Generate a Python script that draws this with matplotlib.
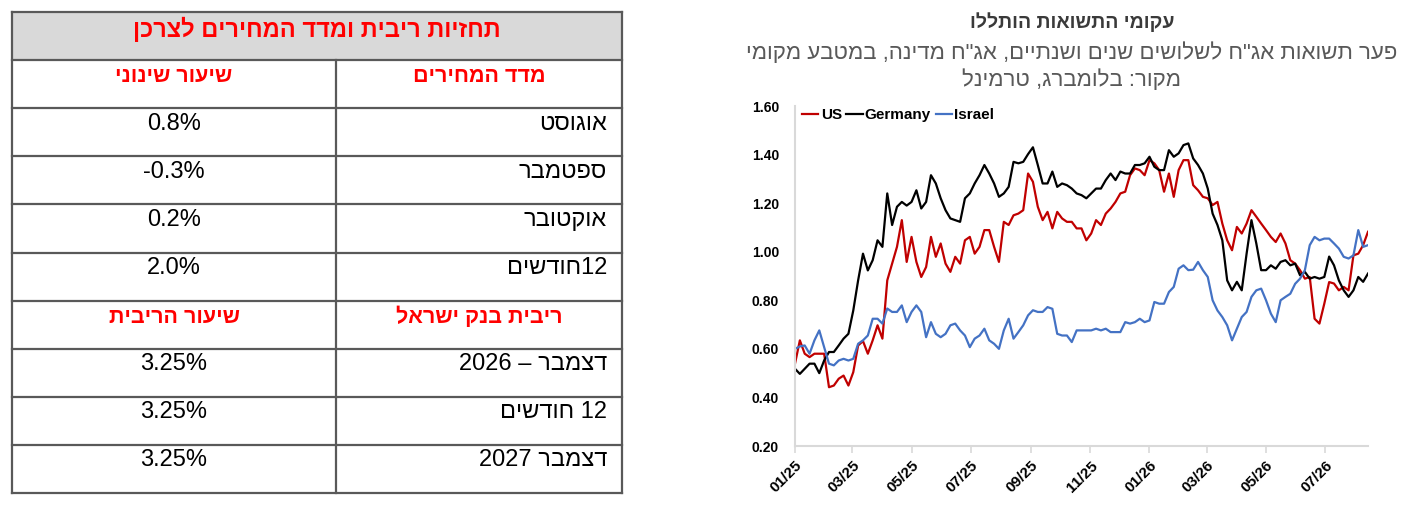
import matplotlib
matplotlib.use("Agg")
import matplotlib.pyplot as plt
import matplotlib.dates as mdates
import pandas as pd
from matplotlib.patches import Rectangle

# ---------------- data ----------------
start_date = "2025-01-01"
step = "5D"

us = [0.539, 0.635, 0.58, 0.566, 0.58, 0.58, 0.58, 0.442, 0.449, 0.477,
      0.49, 0.449, 0.504, 0.614, 0.632, 0.58, 0.635, 0.697, 0.642, 0.882,
      0.951, 1.02, 1.13, 0.958, 1.061, 0.958, 0.896, 0.937, 1.061, 0.979,
      1.034, 0.951, 0.917, 0.979, 0.951, 1.047, 1.061, 0.992, 1.02, 1.089,
      1.089, 1.02, 0.958, 1.123, 1.11, 1.15, 1.157, 1.171, 1.322, 1.288,
      1.185, 1.13, 1.164, 1.096, 1.164, 1.137, 1.123, 1.123, 1.096, 1.096,
      1.047, 1.075, 1.13, 1.11, 1.157, 1.178, 1.205, 1.24, 1.247, 1.315,
      1.343, 1.336, 1.315, 1.377, 1.364, 1.336, 1.247, 1.322, 1.226, 1.336,
      1.377, 1.377, 1.274, 1.253, 1.226, 1.22, 1.192, 1.205, 1.116, 1.047,
      1.006, 1.102, 1.075, 1.116, 1.171, 1.144, 1.116, 1.089, 1.061, 1.04,
      1.075, 1.034, 0.965, 0.951, 0.924, 0.889, 0.896, 0.724, 0.704, 0.786,
      0.875, 0.869, 0.841, 0.855, 0.841, 0.985, 0.992, 1.027, 1.082]

germany = [0.518, 0.497, 0.518, 0.539, 0.539, 0.50, 0.552, 0.587, 0.587, 0.614,
           0.642, 0.662, 0.758, 0.882, 0.992, 0.923, 0.965, 1.047, 1.02, 1.24,
           1.11, 1.185, 1.205, 1.19, 1.205, 1.253, 1.178, 1.205, 1.315, 1.281,
           1.22, 1.171, 1.137, 1.13, 1.123, 1.22, 1.24, 1.281, 1.315, 1.357,
           1.322, 1.281, 1.226, 1.24, 1.267, 1.37, 1.364, 1.37, 1.402, 1.43,
           1.357, 1.281, 1.281, 1.33, 1.267, 1.281, 1.274, 1.26, 1.24, 1.233,
           1.22, 1.24, 1.26, 1.26, 1.295, 1.322, 1.295, 1.33, 1.322, 1.322,
           1.357, 1.357, 1.364, 1.391, 1.35, 1.336, 1.336, 1.418, 1.391, 1.405,
           1.439, 1.446, 1.384, 1.357, 1.322, 1.26, 1.157, 1.11, 1.047, 0.882,
           0.841, 0.876, 0.841, 0.992, 1.13, 1.034, 0.924, 0.924, 0.944, 0.93,
           0.958, 0.965, 0.944, 0.951, 0.903, 0.917, 0.889, 0.896, 0.889, 0.896,
           0.98, 0.944, 0.882, 0.841, 0.814, 0.841, 0.896, 0.876, 0.91]

israel = [0.60, 0.61, 0.614, 0.58, 0.635, 0.676, 0.607, 0.539, 0.532, 0.552,
          0.559, 0.552, 0.559, 0.621, 0.635, 0.655, 0.724, 0.724, 0.704, 0.766,
          0.752, 0.752, 0.779, 0.71, 0.752, 0.779, 0.752, 0.648, 0.71, 0.662,
          0.648, 0.662, 0.697, 0.704, 0.676, 0.655, 0.607, 0.642, 0.655, 0.683,
          0.635, 0.621, 0.60, 0.676, 0.724, 0.642, 0.669, 0.697, 0.738, 0.759,
          0.752, 0.752, 0.772, 0.765, 0.662, 0.655, 0.655, 0.628, 0.676, 0.676,
          0.676, 0.676, 0.683, 0.676, 0.683, 0.669, 0.669, 0.669, 0.71, 0.704,
          0.71, 0.724, 0.71, 0.717, 0.793, 0.786, 0.786, 0.834, 0.855, 0.93,
          0.944, 0.924, 0.926, 0.958, 0.924, 0.896, 0.80, 0.758, 0.731, 0.697,
          0.635, 0.683, 0.731, 0.752, 0.814, 0.841, 0.848, 0.80, 0.745, 0.71,
          0.80, 0.814, 0.827, 0.868, 0.889, 0.924, 1.027, 1.061, 1.047, 1.054,
          1.054, 1.034, 1.013, 0.979, 0.972, 0.985, 1.089, 1.02, 1.027]

series_names = ["US", "Germany", "Israel"]
series_colors = ["#c00000", "#000000", "#4472c4"]

y_ticks = [0.20, 0.40, 0.60, 0.80, 1.00, 1.20, 1.40, 1.60]

# Hebrew texts stored in visual (left-to-right display) order
chart_title = "וללתוה תואושתה ימוקע"
chart_sub1 = 'ימוקמ עבטמב ,הנידמ ח"גא ,םייתנשו םינש םישולשל ח"גא תואושת רעפ'
chart_sub2 = "לנימרט ,גרבמולב :רוקמ"

table_title = "ןכרצל םיריחמה דדמו תיביר תויזחת"
table_header1 = ["םיריחמה דדמ", "ינוניש רועיש"]
cpi_labels = ["טסוגוא", "רבמטפס", "רבוטקוא", "םישדוח12"]
cpi_values = ["0.8%", "-0.3%", "0.2%", "2.0%"]
table_header2 = ["לארשי קנב תיביר", "תיבירה רועיש"]
rate_labels = ["2026 – רבמצד", "םישדוח 12", "2027 רבמצד"]
rate_values = ["3.25%", "3.25%", "3.25%"]

# ---------------- figure ----------------
W, H = 1410, 512
fig = plt.figure(figsize=(W / 100, H / 100), dpi=100)
fams = ["Liberation Sans", "DejaVu Sans"]
plt.rcParams["font.family"] = fams

# ---- table (drawn in pixel space) ----
tab = fig.add_axes([0, 0, 1, 1])
tab.set_xlim(0, W)
tab.set_ylim(H, 0)
tab.axis("off")

x0, x1, xm = 12, 622, 336
row_h = 48.1
top = 12
rows = [top + row_h * i for i in range(11)]
line_c = "#595959"
red = "#ff0000"

tab.add_patch(Rectangle((x0, rows[0]), x1 - x0, row_h, facecolor="#d9d9d9",
                        edgecolor="none", zorder=0))
for yy in rows:
    tab.plot([x0, x1], [yy, yy], color=line_c, lw=1.6, solid_capstyle="projecting")
tab.plot([x0, x0], [rows[0], rows[-1]], color=line_c, lw=1.6)
tab.plot([x1, x1], [rows[0], rows[-1]], color=line_c, lw=1.6)
tab.plot([xm, xm], [rows[1], rows[-1]], color=line_c, lw=1.6)

cl = (x0 + xm) / 2
cr = (xm + x1) / 2
rx = 607
base = 21.5

tab.text((x0 + x1) / 2, rows[0] + 25, table_title, color=red, fontsize=17,
         fontweight="bold", ha="center", va="baseline")


def header(r, pair):
    tab.text(cr, rows[r] + 22, pair[0], color=red, fontsize=15.5,
             fontweight="bold", ha="center", va="baseline")
    tab.text(cl, rows[r] + 22, pair[1], color=red, fontsize=15.5,
             fontweight="bold", ha="center", va="baseline")


def body(r, lab, val):
    tab.text(rx, rows[r] + base, lab, color="black", fontsize=17,
             ha="right", va="baseline")
    tab.text(cl, rows[r] + base, val, color="black", fontsize=17,
             ha="center", va="baseline")


header(1, table_header1)
for i, (l, v) in enumerate(zip(cpi_labels, cpi_values)):
    body(2 + i, l, v)
header(6, table_header2)
for i, (l, v) in enumerate(zip(rate_labels, rate_values)):
    body(7 + i, l, v)

# ---- chart titles ----
cx = 1072 / W
fig.text(cx, 1 - 22 / H, chart_title, ha="center", va="center", fontsize=14,
         fontweight="bold", color="#3a3a3a")
fig.text(cx, 1 - 53 / H, chart_sub1, ha="center", va="center", fontsize=16,
         color="#595959")
fig.text(cx, 1 - 80 / H, chart_sub2, ha="center", va="center", fontsize=16,
         color="#595959")

# ---- line chart ----
dates = pd.date_range(start_date, periods=len(us), freq=step)
ax = fig.add_axes([795 / W, 1 - 446 / H, (1368 - 795) / W, (446 - 106) / H])
for name, vals, col in zip(series_names, [us, germany, israel], series_colors):
    ax.plot(dates, vals, color=col, lw=1.6, label=name)

ax.set_ylim(0.2, 1.6)
ax.set_yticks(y_ticks)
ax.set_yticklabels([f"{v:.2f}" for v in y_ticks], fontsize=10, fontweight="bold")
ax.set_xlim(dates[0], dates[-1])
ax.xaxis.set_major_locator(mdates.MonthLocator(bymonth=[1, 3, 5, 7, 9, 11]))
ax.xaxis.set_major_formatter(mdates.DateFormatter("%m/%y"))
for lab in ax.get_xticklabels():
    lab.set_rotation(45)
    lab.set_ha("right")
    lab.set_rotation_mode("anchor")
    lab.set_fontweight("bold")
    lab.set_fontsize(11)
ax.tick_params(axis="x", length=5, color="#d9d9d9", width=1.2, pad=4)
ax.tick_params(axis="y", length=0, pad=11.5)
for s in ["top", "right"]:
    ax.spines[s].set_visible(False)
for s in ["left", "bottom"]:
    ax.spines[s].set_color("#d9d9d9")
    ax.spines[s].set_linewidth(1.5)

leg = ax.legend(loc="upper left", bbox_to_anchor=(0.013, 0.993), ncol=3,
                frameon=False, handlelength=1.05, handletextpad=0.15,
                columnspacing=0.3, borderaxespad=0, borderpad=0,
                prop={"weight": "bold", "size": 11, "family": fams})

fig.savefig("out.png", dpi=100)
